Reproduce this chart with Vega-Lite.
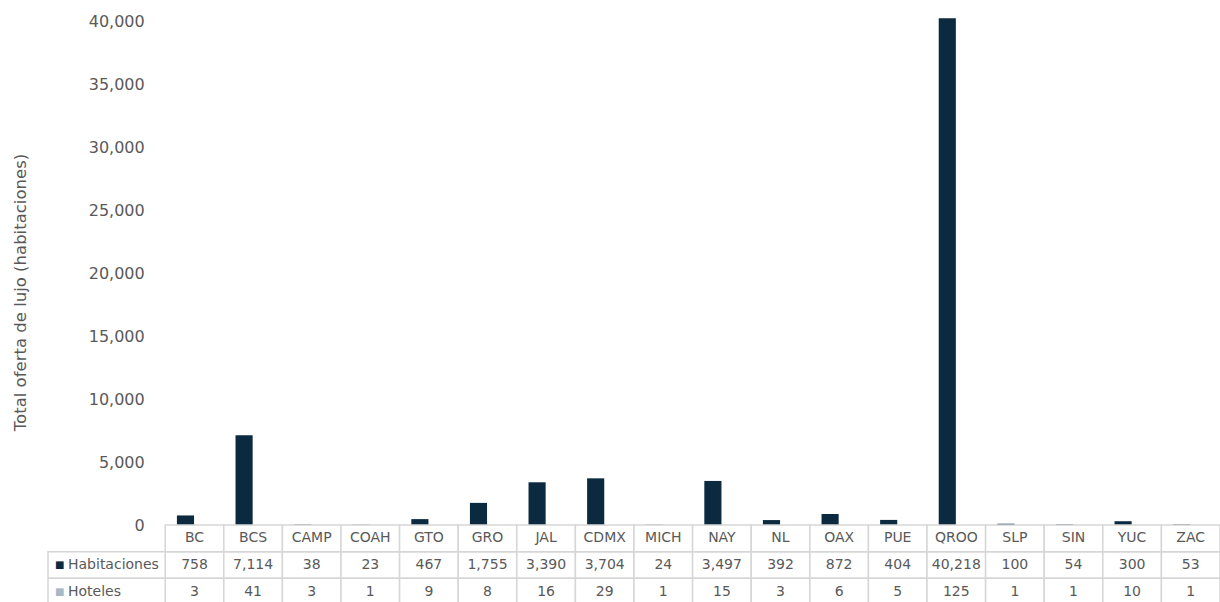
{
  "$schema": "https://vega.github.io/schema/vega-lite/v6.json",
  "padding": {"left": 12, "top": 13, "right": 0, "bottom": 0},
  "bounds": "flush",
  "spacing": 0,
  "config": {"view": {"stroke": null}, "font": "DejaVu Sans"},
  "datasets": {
    "estados": [
      {"estado": "BC", "Habitaciones": 758, "Hoteles": 3},
      {"estado": "BCS", "Habitaciones": 7114, "Hoteles": 41},
      {"estado": "CAMP", "Habitaciones": 38, "Hoteles": 3},
      {"estado": "COAH", "Habitaciones": 23, "Hoteles": 1},
      {"estado": "GTO", "Habitaciones": 467, "Hoteles": 9},
      {"estado": "GRO", "Habitaciones": 1755, "Hoteles": 8},
      {"estado": "JAL", "Habitaciones": 3390, "Hoteles": 16},
      {"estado": "CDMX", "Habitaciones": 3704, "Hoteles": 29},
      {"estado": "MICH", "Habitaciones": 24, "Hoteles": 1},
      {"estado": "NAY", "Habitaciones": 3497, "Hoteles": 15},
      {"estado": "NL", "Habitaciones": 392, "Hoteles": 3},
      {"estado": "OAX", "Habitaciones": 872, "Hoteles": 6},
      {"estado": "PUE", "Habitaciones": 404, "Hoteles": 5},
      {"estado": "QROO", "Habitaciones": 40218, "Hoteles": 125},
      {"estado": "SLP", "Habitaciones": 100, "Hoteles": 1},
      {"estado": "SIN", "Habitaciones": 54, "Hoteles": 1},
      {"estado": "YUC", "Habitaciones": 300, "Hoteles": 10},
      {"estado": "ZAC", "Habitaciones": 53, "Hoteles": 1}
    ],
    "series": [{"serie": "Habitaciones"}, {"serie": "Hoteles"}]
  },
  "vconcat": [
    {
      "width": 1172,
      "height": 508,
      "data": {"name": "estados"},
      "transform": [
        {"fold": ["Habitaciones", "Hoteles"], "as": ["serie", "valor"]},
        {"filter": "datum.serie === 'Habitaciones'"}
      ],
      "mark": {"type": "bar"},
      "encoding": {
        "x": {
          "field": "estado", "type": "nominal",
          "scale": {"domain": ["_a", "_b", "BC", "BCS", "CAMP", "COAH", "GTO", "GRO", "JAL", "CDMX", "MICH", "NAY", "NL", "OAX", "PUE", "QROO", "SLP", "SIN", "YUC", "ZAC"], "paddingInner": 0, "paddingOuter": 0},
          "axis": null
        },
        "xOffset": {"field": "serie", "type": "nominal", "scale": {"domain": ["Habitaciones", "Hoteles"], "paddingInner": 0.05, "paddingOuter": 0.65}},
        "y": {
          "field": "valor", "type": "quantitative",
          "scale": {"domain": [0, 40320], "nice": false},
          "axis": {
            "values": [0, 5000, 10000, 15000, 20000, 25000, 30000, 35000, 40000],
            "format": ",.0f", "grid": false, "domain": false, "ticks": false,
            "offset": -117.2, "labelPadding": 21, "labelFontSize": 16, "labelColor": "#595959",
            "title": "Total oferta de lujo (habitaciones)", "titleFontSize": 16.5, "titleFontWeight": "normal",
            "titleColor": "#595959", "titlePadding": 60, "titleY": 275
          }
        },
        "color": {"field": "serie", "type": "nominal", "scale": {"domain": ["Habitaciones", "Hoteles"], "range": ["#0b2a40", "#a6b9c9"]}, "legend": null}
      }
    },
    {
      "width": 1172,
      "height": 80,
      "encoding": {
        "x": {
          "type": "nominal",
          "scale": {"domain": ["_a", "_b", "BC", "BCS", "CAMP", "COAH", "GTO", "GRO", "JAL", "CDMX", "MICH", "NAY", "NL", "OAX", "PUE", "QROO", "SLP", "SIN", "YUC", "ZAC"], "paddingInner": 0, "paddingOuter": 0},
          "axis": null
        },
        "y": {"type": "nominal", "scale": {"domain": ["h", "Habitaciones", "Hoteles"], "paddingInner": 0, "paddingOuter": 0}, "axis": null}
      },
      "layer": [
        {
          "data": {"name": "estados"},
          "transform": [{"fold": ["Habitaciones", "Hoteles"], "as": ["fila", "valor"]}],
          "mark": {"type": "rect", "fill": "white", "stroke": "#d6d6d6", "strokeWidth": 1.5},
          "encoding": {"x": {"field": "estado", "type": "nominal"}, "y": {"field": "fila", "type": "nominal"}}
        },
        {
          "data": {"name": "estados"},
          "mark": {"type": "rect", "fill": "white", "stroke": "#d6d6d6", "strokeWidth": 1.5},
          "encoding": {"x": {"field": "estado", "type": "nominal"}, "y": {"datum": "h", "type": "nominal"}}
        },
        {
          "data": {"name": "series"},
          "mark": {"type": "rect", "fill": "white", "stroke": "#d6d6d6", "strokeWidth": 1.5},
          "encoding": {
            "x": {"datum": "_a", "type": "nominal", "bandPosition": 0},
            "x2": {"datum": "_b", "bandPosition": 1},
            "y": {"field": "serie", "type": "nominal"}
          }
        },
        {
          "data": {"name": "estados"},
          "transform": [{"fold": ["Habitaciones", "Hoteles"], "as": ["fila", "valor"]}],
          "mark": {"type": "text", "fontSize": 14, "color": "#595959"},
          "encoding": {"x": {"field": "estado", "type": "nominal"}, "y": {"field": "fila", "type": "nominal"}, "text": {"field": "valor", "format": ",.0f"}}
        },
        {
          "data": {"name": "estados"},
          "mark": {"type": "text", "fontSize": 14, "color": "#595959"},
          "encoding": {"x": {"field": "estado", "type": "nominal"}, "y": {"datum": "h", "type": "nominal"}, "text": {"field": "estado"}}
        },
        {
          "data": {"name": "series"},
          "mark": {"type": "text", "fontSize": 14, "color": "#595959", "align": "left", "dx": 20},
          "encoding": {"x": {"datum": "_a", "type": "nominal", "bandPosition": 0}, "y": {"field": "serie", "type": "nominal"}, "text": {"field": "serie"}}
        },
        {
          "data": {"name": "series"},
          "mark": {"type": "text", "fontSize": 10, "align": "left", "dx": 7},
          "encoding": {
            "x": {"datum": "_a", "type": "nominal", "bandPosition": 0},
            "y": {"field": "serie", "type": "nominal"},
            "text": {"value": "■"},
            "color": {"field": "serie", "type": "nominal", "legend": null}
          }
        }
      ]
    }
  ]
}
